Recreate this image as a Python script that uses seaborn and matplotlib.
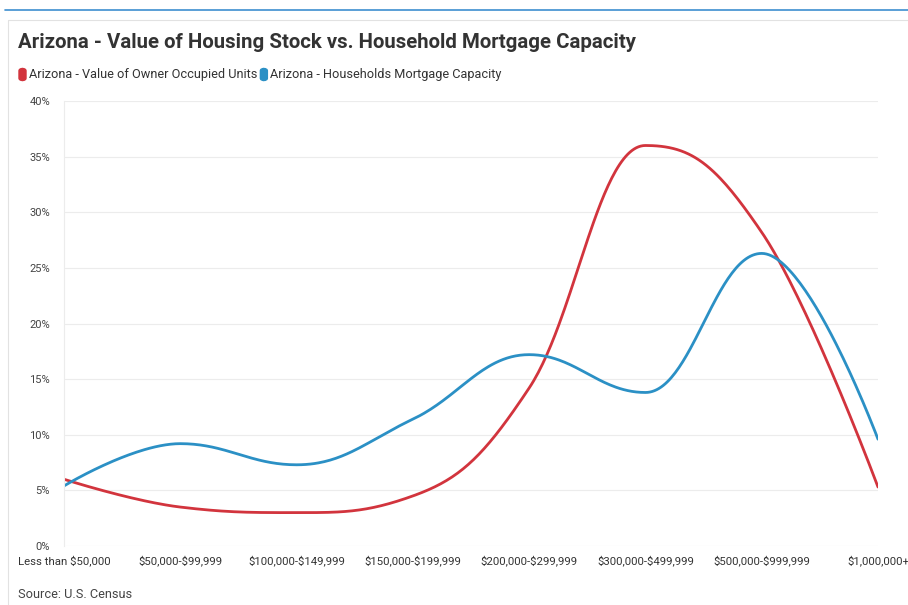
import numpy as np
import pandas as pd
import matplotlib
matplotlib.use('Agg')
import matplotlib.pyplot as plt
from matplotlib.lines import Line2D
from matplotlib.patches import FancyBboxPatch
import seaborn as sns

categories = ['Less than $50,000', '$50,000-$99,999', '$100,000-$149,999',
              '$150,000-$199,999', '$200,000-$299,999', '$300,000-$499,999',
              '$500,000-$999,999', '$1,000,000+']
owner_units = [6.0, 3.5, 3.0, 4.5, 14.2, 36.0, 28.2, 5.3]
mortgage_capacity = [5.4, 9.2, 7.3, 11.4, 17.2, 13.8, 26.3, 9.6]
series_names = ['Arizona - Value of Owner Occupied Units',
                'Arizona - Households Mortgage Capacity']
colors = ['#d2343d', '#2b90c5']

sns.set_theme(style='white')
plt.rcParams['font.family'] = ['Roboto', 'DejaVu Sans']
plt.rcParams['text.parse_math'] = False


def spline(ys, n=60):
    # highcharts-style spline through the points (rendering only)
    xs = np.arange(len(ys), dtype=float)
    ys = np.asarray(ys, dtype=float)
    sm, den = 1.5, 2.5
    left = [(xs[0], ys[0])]
    right = [(xs[0], ys[0])]
    for i in range(1, len(ys) - 1):
        lx = (sm * xs[i] + xs[i - 1]) / den
        ly = (sm * ys[i] + ys[i - 1]) / den
        rx = (sm * xs[i] + xs[i + 1]) / den
        ry = (sm * ys[i] + ys[i + 1]) / den
        if rx != lx:
            corr = (ry - ly) * (rx - xs[i]) / (rx - lx) + ys[i] - ry
            ly += corr
            ry += corr
        if ly > ys[i - 1] and ly > ys[i]:
            ly = max(ys[i - 1], ys[i]); ry = 2 * ys[i] - ly
        elif ly < ys[i - 1] and ly < ys[i]:
            ly = min(ys[i - 1], ys[i]); ry = 2 * ys[i] - ly
        if ry > ys[i + 1] and ry > ys[i]:
            ry = max(ys[i + 1], ys[i]); ly = 2 * ys[i] - ry
        elif ry < ys[i + 1] and ry < ys[i]:
            ry = min(ys[i + 1], ys[i]); ly = 2 * ys[i] - ry
        left.append((lx, ly))
        right.append((rx, ry))
    left.append((xs[-1], ys[-1]))
    right.append((xs[-1], ys[-1]))
    t = np.linspace(0, 1, n)
    px, py = [], []
    for i in range(len(ys) - 1):
        p0 = np.array([xs[i], ys[i]]); p1 = np.array(right[i])
        p2 = np.array(left[i + 1]); p3 = np.array([xs[i + 1], ys[i + 1]])
        b = ((1 - t) ** 3)[:, None] * p0 + (3 * (1 - t) ** 2 * t)[:, None] * p1 \
            + (3 * (1 - t) * t ** 2)[:, None] * p2 + (t ** 3)[:, None] * p3
        px.extend(b[:, 0]); py.extend(b[:, 1])
    return np.array(px), np.array(py)


frames = []
for name, vals in zip(series_names, [owner_units, mortgage_capacity]):
    sx, sy = spline(vals)
    frames.append(pd.DataFrame({'x': sx, 'y': sy, 'series': name}))
df = pd.concat(frames, ignore_index=True)

fig = plt.figure(figsize=(9.08, 6.05), dpi=100)
ax = fig.add_axes([64 / 908, 1 - 546 / 605, (878 - 64) / 908, (546 - 101) / 605])

sns.lineplot(data=df, x='x', y='y', hue='series', palette=colors, sort=False,
             estimator=None, linewidth=2, ax=ax, legend=False)

ax.set_xlim(0, len(categories) - 1)
ax.set_ylim(0, 40)
ax.set_yticks(range(0, 41, 5))
ax.set_yticklabels([f'{v}%' for v in range(0, 41, 5)], fontsize=8, color='#444444')
ax.set_xticks(range(len(categories)))
ax.set_xticklabels(categories, fontsize=8.2, color='#333333')
ax.tick_params(axis='both', length=0, pad=7)
ax.tick_params(axis='y', pad=10)
ax.set_xlabel('')
ax.set_ylabel('')
ax.grid(axis='y', color='#ececec', linewidth=0.8)
for s in ['top', 'right', 'bottom']:
    ax.spines[s].set_visible(False)
ax.spines['left'].set_color('#ececec')
ax.spines['left'].set_linewidth(0.8)
ax.set_axisbelow(True)

# page decoration
fig.add_artist(Line2D([5 / 908, 1], [1 - 10 / 605] * 2, color='#3d8fd0', lw=1.2))
fig.add_artist(Line2D([8 / 908, 1], [1 - 20 / 605] * 2, color='#e2e2e2', lw=0.8))
fig.add_artist(Line2D([8 / 908] * 2, [0, 1 - 20 / 605], color='#e2e2e2', lw=0.8))

fig.text(18 / 908, 1 - 43 / 605, 'Arizona - Value of Housing Stock vs. Household Mortgage Capacity',
         fontsize=14.7, fontweight='bold', color='#333333', va='center', ha='left')

# legend
lx = 19
for name, c in zip(series_names, colors):
    fig.add_artist(FancyBboxPatch((lx / 908, 1 - 80.5 / 605), 7 / 908, 12 / 605,
                                  boxstyle='round,pad=0,rounding_size=0.004',
                                  transform=fig.transFigure, color=c))
    t = fig.text((lx + 10) / 908, 1 - 74.5 / 605, name, fontsize=9.2, color='#333333',
                 va='center', ha='left')
    fig.canvas.draw()
    bb = t.get_window_extent()
    lx = bb.x1 + 3

fig.text(18 / 908, 1 - 594 / 605, 'Source: U.S. Census', fontsize=9.2, color='#444444',
         va='center', ha='left')

fig.savefig('out.png', dpi=100)
